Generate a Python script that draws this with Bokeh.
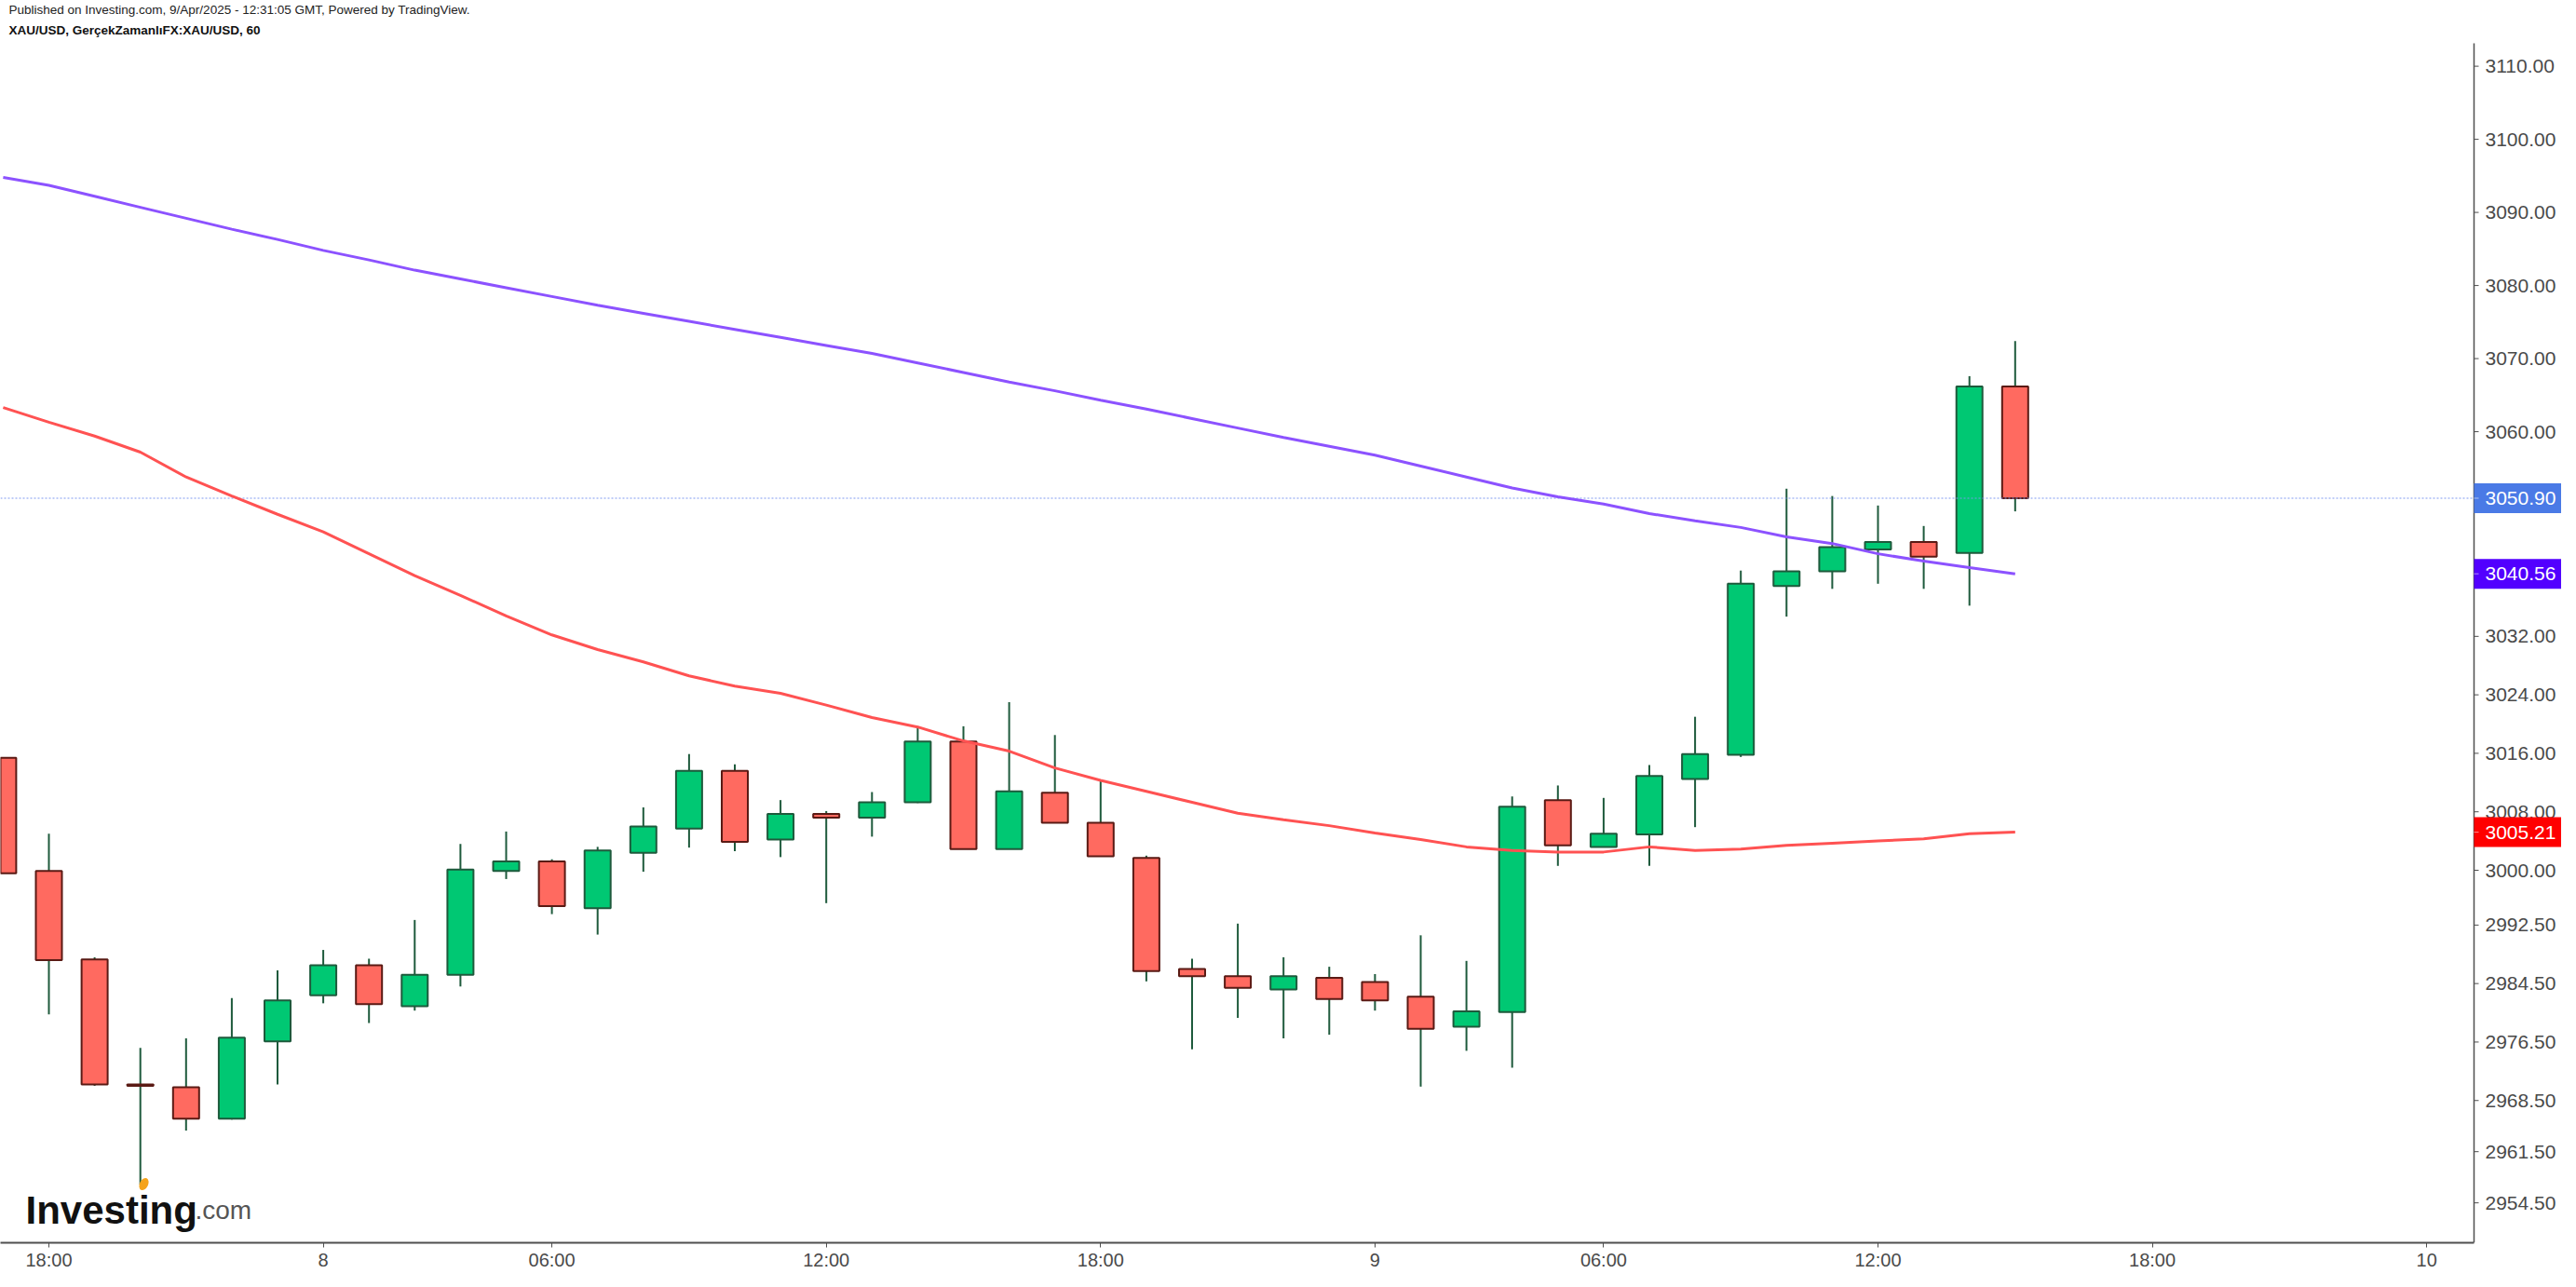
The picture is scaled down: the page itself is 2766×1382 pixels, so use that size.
from bokeh.plotting import figure
from bokeh.models import ColumnDataSource, FixedTicker, Label, Range1d
from bokeh.embed import file_html
from bokeh.resources import INLINE
from bokeh.core.properties import value

# ---------------- data (hourly bars, index 0 = 7 Apr 18:00, GMT+3) ----------------
bars = list(range(-1, 44))
opens = [3015.4, 2999.9, 2987.8, 2970.7, 2970.3, 2966.0, 2976.6, 2982.9, 2987.0, 2981.4,
         2985.7, 2999.9, 3001.2, 2994.8, 3002.4, 3005.7, 3013.6, 3004.2, 3007.7, 3007.2,
         3009.3, 3017.6, 3002.9, 3010.6, 3006.5, 3001.7, 2986.5, 2985.5, 2983.7, 2985.3,
         2984.7, 2982.7, 2978.6, 2980.6, 3009.6, 3003.2, 3004.9, 3012.5, 3015.8, 3038.9,
         3040.9, 3043.9, 3044.9, 3043.4, 3066.2]
highs = [3015.4, 3005.0, 2988.1, 2975.7, 2977.0, 2982.5, 2986.3, 2989.1, 2987.9, 2993.2,
         3003.6, 3005.3, 3001.5, 3003.2, 3008.6, 3015.9, 3014.5, 3009.6, 3008.1, 3010.7,
         3019.7, 3019.7, 3023.0, 3018.5, 3012.4, 3002.0, 2987.9, 2992.7, 2988.1, 2986.8,
         2985.8, 2991.1, 2987.6, 3010.1, 3011.6, 3009.9, 3014.4, 3021.0, 3041.0, 3052.2,
         3051.2, 3049.9, 3047.1, 3067.6, 3072.4]
lows = [2999.6, 2980.3, 2970.5, 2957.0, 2964.4, 2965.9, 2970.7, 2981.8, 2979.1, 2980.8,
        2984.1, 2998.8, 2994.0, 2991.2, 2999.8, 3003.1, 3002.6, 3001.8, 2995.5, 3004.6,
        3009.2, 3002.9, 3002.9, 3006.5, 3001.9, 2984.8, 2975.5, 2979.8, 2977.0, 2977.5,
        2980.8, 2970.4, 2975.3, 2973.0, 3000.6, 3003.2, 3000.6, 3005.9, 3015.5, 3034.7,
        3038.5, 3039.2, 3038.5, 3036.2, 3049.1]
closes = [2999.6, 2987.7, 2970.7, 2970.5, 2966.0, 2977.1, 2982.2, 2987.0, 2981.7, 2985.7,
          3000.1, 3001.2, 2995.1, 3002.7, 3006.0, 3013.6, 3003.9, 3007.7, 3007.2, 3009.3,
          3017.6, 3002.9, 3010.8, 3006.5, 3001.9, 2986.2, 2985.5, 2983.9, 2985.5, 2982.4,
          2982.2, 2978.3, 2980.7, 3008.7, 3003.4, 3005.0, 3012.9, 3015.9, 3039.2, 3040.9,
          3044.2, 3044.9, 3042.9, 3066.2, 3050.9]
ma_red = [3063.3, 3061.3, 3059.4, 3057.2, 3053.8, 3051.2, 3048.7, 3046.3, 3043.3, 3040.3,
          3037.6, 3034.8, 3032.2, 3030.2, 3028.5, 3026.6, 3025.2, 3024.2, 3022.6, 3020.9,
          3019.6, 3017.7, 3016.3, 3014.0, 3012.3, 3010.8, 3009.3, 3007.8, 3006.9, 3006.1,
          3005.1, 3004.2, 3003.2, 3002.7, 3002.5, 3002.5, 3003.2, 3002.7, 3002.9, 3003.4,
          3003.7, 3004.0, 3004.3, 3005.0, 3005.21]
ma_purple = [3094.8, 3093.7, 3092.2, 3090.7, 3089.2, 3087.7, 3086.3, 3084.8, 3083.5, 3082.1,
             3080.9, 3079.7, 3078.5, 3077.3, 3076.2, 3075.1, 3074.0, 3072.9, 3071.8, 3070.7,
             3069.4, 3068.1, 3066.8, 3065.6, 3064.3, 3063.1, 3061.8, 3060.5, 3059.2, 3058.0,
             3056.8, 3055.3, 3053.8, 3052.3, 3051.1, 3050.1, 3048.8, 3047.8, 3046.9, 3045.6,
             3044.7, 3043.3, 3042.3, 3041.4, 3040.56]
x_tick_pos = [0, 6, 11, 17, 23, 29, 34, 40, 46, 52]
x_tick_labels = ["18:00", "8", "06:00", "12:00", "18:00", "9", "06:00", "12:00", "18:00", "10"]
y_ticks = [3110, 3100, 3090, 3080, 3070, 3060, 3032, 3024, 3016, 3008, 3000,
           2992.5, 2984.5, 2976.5, 2968.5, 2961.5, 2954.5]
header_1 = "Published on Investing.com, 9/Apr/2025 - 12:31:05 GMT, Powered by TradingView."
header_2 = "XAU/USD, GerçekZamanlıFX:XAU/USD, 60"

# ---------------- styling / layout (page pixels) ----------------
UP_FILL, DOWN_FILL = "#00c873", "#ff6a60"
UP_LINE, DOWN_LINE = "#1e5a3c", "#5a1a14"
WICK = "#1e5a3c"
RED_MA, PURPLE_MA = "#ff5252", "#8c52ff"
AXIS_COL, LABEL_COL = "#4f4f4f", "#4a4a4a"
FONT = "Liberation Sans"

PAGE_L, PAGE_T = 8, 8
FW, FH = 2750, 1334            # frame covers page x 8..2758, y 8..1342
BAR0_PX, PX_PER_BAR = 60.0, 49.1
V0_PY, PX_PER_UNIT = 942.0, 7.849
AXIS_PX = 2664                 # page x of the price axis line

X0 = (PAGE_L - BAR0_PX) / PX_PER_BAR
X1 = (PAGE_L + FW - BAR0_PX) / PX_PER_BAR
Y1 = 3000 + (V0_PY - PAGE_T) / PX_PER_UNIT
Y0 = 3000 - (PAGE_T + FH - V0_PY) / PX_PER_UNIT


def xd(px):
    return (px - BAR0_PX) / PX_PER_BAR


def yd(py):
    return 3000 + (V0_PY - py) / PX_PER_UNIT


p = figure(frame_width=FW, frame_height=FH, x_range=Range1d(X0, X1), y_range=Range1d(Y0, Y1),
           output_backend="svg", toolbar_location=None, tools="", y_axis_location=None,
           min_border_left=0, min_border_top=0, min_border_right=0, min_border_bottom=0,
           background_fill_color="white", border_fill_color="white", outline_line_color=None)
p.grid.visible = False

# x axis (library axis, line limited to the left of the price axis)
xa = p.xaxis[0]
xa.ticker = FixedTicker(ticks=x_tick_pos, minor_ticks=[])
xa.major_label_overrides = {t: l for t, l in zip(x_tick_pos, x_tick_labels)}
xa.bounds = (X0, xd(AXIS_PX))
xa.axis_line_color = AXIS_COL
xa.axis_line_width = 2
xa.major_tick_line_color = AXIS_COL
xa.major_tick_out = 5
xa.major_tick_in = 0
xa.minor_tick_out = 0
xa.major_label_standoff = 2
xa.major_label_text_font = FONT
xa.major_label_text_font_size = "20px"
xa.major_label_text_color = LABEL_COL

# candles
up = [c >= o for o, c in zip(opens, closes)]
src = ColumnDataSource(dict(
    x=bars, h=highs, l=lows,
    top=[max(o, c) for o, c in zip(opens, closes)],
    bottom=[min(o, c) for o, c in zip(opens, closes)],
    fill=[UP_FILL if u else DOWN_FILL for u in up],
    line=[UP_LINE if u else DOWN_LINE for u in up],
))
p.segment(x0="x", y0="h", x1="x", y1="l", source=src, line_color=WICK, line_width=2)
p.vbar(x="x", width=0.57, top="top", bottom="bottom", source=src,
       fill_color="fill", line_color="line", line_width=2)

# last price line (dotted, up to the price axis)
p.segment(x0=[X0], y0=[closes[-1]], x1=[xd(AXIS_PX)], y1=[closes[-1]],
          line_color="#7b98f0", line_alpha=0.65, line_width=1.5, line_dash="2 2")

# moving averages
p.line(bars, ma_red, line_color=RED_MA, line_width=3)
p.line(bars, ma_purple, line_color=PURPLE_MA, line_width=3)

# price axis on the right: line, ticks and labels
p.segment(x0=[xd(AXIS_PX)], y0=[yd(54)], x1=[xd(AXIS_PX)], y1=[Y0],
          line_color=AXIS_COL, line_width=1.5)
p.segment(x0=[xd(AXIS_PX)] * len(y_ticks), y0=y_ticks,
          x1=[xd(AXIS_PX + 5)] * len(y_ticks), y1=y_ticks,
          line_color=AXIS_COL, line_width=1)
p.text(x=[xd(AXIS_PX + 12)] * len(y_ticks), y=y_ticks, text=[f"{v:.2f}" for v in y_ticks],
       text_align="left", text_baseline="middle", text_font=value(FONT),
       text_font_size=value("21px"), text_color=LABEL_COL)

# price tags
tag_vals = [closes[-1], ma_purple[-1], ma_red[-1]]
tag_cols = ["#4a7ae6", "#5200ff", "#ff0000"]
p.rect(x=[xd(AXIS_PX + 49)] * 3, y=tag_vals, width=98, height=32, width_units="screen",
       height_units="screen", fill_color=tag_cols, line_color=None)
p.segment(x0=[xd(AXIS_PX)] * 3, y0=tag_vals, x1=[xd(AXIS_PX + 5)] * 3, y1=tag_vals,
          line_color="white", line_alpha=0.55, line_width=1)
p.text(x=[xd(AXIS_PX + 12)] * 3, y=tag_vals, text=[f"{v:.2f}" for v in tag_vals],
       text_align="left", text_baseline="middle", text_font=value(FONT),
       text_font_size=value("21px"), text_color="white")

# header texts
p.add_layout(Label(x=xd(17), y=yd(18), text=header_1, text_align="left", text_baseline="middle",
                   text_font=FONT, text_font_size="13.5px", text_color="#222222"))
p.add_layout(Label(x=xd(17), y=yd(40), text=header_2, text_align="left", text_baseline="middle",
                   text_font=FONT, text_font_size="13.5px", text_font_style="bold",
                   text_color="#111111"))

# Investing.com logo
p.add_layout(Label(x=xd(35), y=yd(1307), text="Investing", text_align="left",
                   text_baseline="alphabetic", text_font=FONT, text_font_size="42px",
                   text_font_style="bold", text_color="#111111"))
p.add_layout(Label(x=xd(217), y=yd(1307), text=".com", text_align="left",
                   text_baseline="alphabetic", text_font=FONT, text_font_size="28px",
                   text_color="#555555"))
p.ellipse(x=[xd(162)], y=[yd(1279)], width=9, height=14, width_units="screen",
          height_units="screen", angle=-0.45, fill_color="#f5a31a", line_color=None,
          level="overlay")

open("out.html", "w").write(file_html(p, INLINE))
